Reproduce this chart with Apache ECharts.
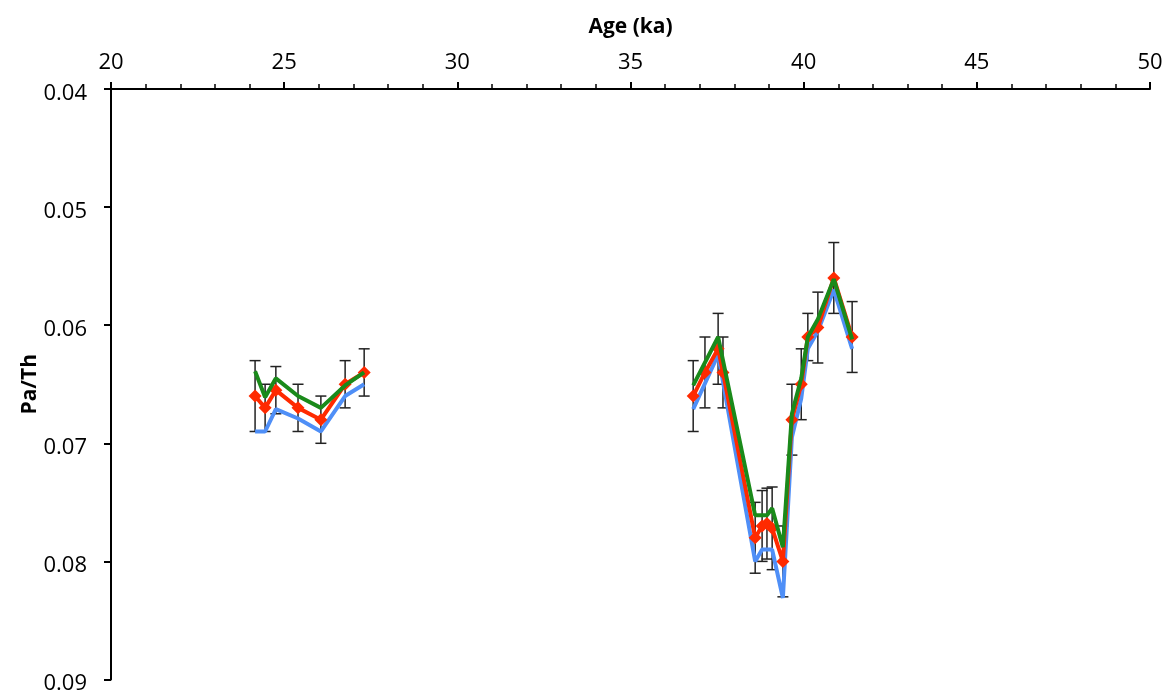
<!DOCTYPE html>
<html>
<head>
<meta charset="utf-8">
<script src="https://cdn.jsdelivr.net/npm/echarts@6/dist/echarts.min.js"></script>
<style>
html,body{margin:0;padding:0;background:#fff;}
#chart{width:1173px;height:695px;}
</style>
</head>
<body>
<div id="chart"></div>
<script>
// ---- data ----
const xTicks = [20, 25, 30, 35, 40, 45, 50];
const yTicks = [0.04, 0.05, 0.06, 0.07, 0.08, 0.09];

const ageRed  = [24.16, 24.45, 24.76, 25.40, 26.06, 26.76, 27.31,
                 36.81, 37.15, 37.53, 37.67, 38.60, 38.80, 38.94, 39.09, 39.40, 39.66, 39.93, 40.12, 40.41, 40.87, 41.40];
const paThRed = [0.0660, 0.0670, 0.0655, 0.0670, 0.0680, 0.0650, 0.0640,
                 0.0660, 0.0640, 0.0620, 0.0640, 0.0780, 0.0770, 0.0768, 0.0772, 0.0800, 0.0680, 0.0650, 0.0610, 0.0602, 0.0560, 0.0610];
const errRed  = [0.003, 0.002, 0.002, 0.002, 0.002, 0.002, 0.002,
                 0.003, 0.003, 0.003, 0.003, 0.003, 0.003, 0.003, 0.0035, 0.003, 0.003, 0.003, 0.002, 0.003, 0.003, 0.003];

const ageGreen  = [24.16, 24.45, 24.76, 25.40, 26.06, 26.76, 27.31,
                   36.81, 37.53, 38.60, 38.80, 38.94, 39.09, 39.40, 39.66, 39.93, 40.12, 40.41, 40.87, 41.40];
const paThGreen = [0.0639, 0.0661, 0.0645, 0.0660, 0.0670, 0.0651, 0.0640,
                   0.0651, 0.0610, 0.0761, 0.0761, 0.0761, 0.0755, 0.0788, 0.0675, 0.0645, 0.0610, 0.0595, 0.0561, 0.0612];

const ageBlue  = [24.16, 24.45, 24.76, 25.40, 26.06, 26.76, 27.31,
                  36.81, 37.53, 38.60, 38.80, 39.09, 39.40, 39.66, 39.93, 40.12, 40.41, 40.87, 41.40];
const paThBlue = [0.0690, 0.0690, 0.0671, 0.0679, 0.0690, 0.0660, 0.0650,
                  0.0671, 0.0625, 0.0800, 0.0790, 0.0790, 0.0831, 0.0695, 0.0662, 0.0620, 0.0605, 0.0570, 0.0620];

const gapAge = 32; // break between the two clusters

// ---- build series data ----
function pairs(xs, ys) {
  const out = [];
  for (let i = 0; i < xs.length; i++) {
    if (i > 0 && xs[i - 1] < gapAge && xs[i] > gapAge) out.push([gapAge, '-']);
    out.push([xs[i], ys[i]]);
  }
  return out;
}
const errData = ageRed.map((a, i) => [a, paThRed[i] - errRed[i], paThRed[i] + errRed[i]]);

const FONT = '"Open Sans", "Noto Sans", sans-serif';
const chart = echarts.init(document.getElementById('chart'));
chart.setOption({
  animation: false,
  backgroundColor: '#fff',
  grid: { left: 111, right: 23, top: 89, bottom: 13, containLabel: false },
  xAxis: {
    type: 'value', position: 'top',
    min: xTicks[0], max: xTicks[xTicks.length - 1], interval: 5,
    name: 'Age (ka)', nameLocation: 'middle', nameGap: 51, nameMoveOverlap: false,
    nameTextStyle: { fontFamily: FONT, fontSize: 21, fontWeight: 'bold', color: '#000' },
    axisLine: { show: true, onZero: false, lineStyle: { color: '#000', width: 2 } },
    axisTick: { show: true, inside: false, length: 7, lineStyle: { color: '#000', width: 2 } },
    minorTick: { show: true, splitNumber: 5, length: 5, lineStyle: { color: '#000', width: 1.5 } },
    axisLabel: { fontFamily: FONT, fontSize: 22, color: '#000', margin: 15 },
    splitLine: { show: false }
  },
  yAxis: {
    type: 'value', inverse: true,
    min: yTicks[0], max: yTicks[yTicks.length - 1], interval: 0.01,
    name: 'Pa/Th', nameLocation: 'middle', nameGap: 70, nameRotate: 90, nameMoveOverlap: false,
    nameTextStyle: { fontFamily: FONT, fontSize: 21, fontWeight: 'bold', color: '#000' },
    axisLine: { show: true, onZero: false, lineStyle: { color: '#000', width: 2 } },
    axisTick: { show: true, inside: false, length: 7, lineStyle: { color: '#000', width: 2 } },
    axisLabel: { color: '#000', margin: 24,
                 formatter: v => '{t|' + v.toFixed(2) + '}',
                 rich: { t: { fontFamily: FONT, fontSize: 22, color: '#000', padding: [9, 0, 0, 0] } } },
    splitLine: { show: false }
  },
  series: [
    {
      type: 'custom', z: 1,
      data: errData,
      encode: { x: 0, y: [1, 2] },
      renderItem: function (params, api) {
        const x = api.value(0);
        const p1 = api.coord([x, api.value(1)]);
        const p2 = api.coord([x, api.value(2)]);
        const hw = 5.5;
        const st = { stroke: '#222', lineWidth: 1.5 };
        return {
          type: 'group',
          children: [
            { type: 'line', shape: { x1: p1[0], y1: p1[1], x2: p2[0], y2: p2[1] }, style: st },
            { type: 'line', shape: { x1: p1[0] - hw, y1: p1[1], x2: p1[0] + hw, y2: p1[1] }, style: st },
            { type: 'line', shape: { x1: p2[0] - hw, y1: p2[1], x2: p2[0] + hw, y2: p2[1] }, style: st }
          ]
        };
      }
    },
    {
      type: 'line', z: 2, data: pairs(ageBlue, paThBlue),
      showSymbol: false, symbol: 'none', connectNulls: false,
      lineStyle: { color: '#4f8ff7', width: 4 }
    },
    {
      type: 'line', z: 3, data: pairs(ageRed, paThRed),
      symbol: 'diamond', symbolSize: 13, connectNulls: false,
      itemStyle: { color: '#ff2a00' },
      lineStyle: { color: '#ff2a00', width: 4 }
    },
    {
      type: 'line', z: 4, data: pairs(ageGreen, paThGreen),
      showSymbol: false, symbol: 'none', connectNulls: false,
      lineStyle: { color: '#1a8a1a', width: 4 }
    }
  ]
});
</script>
</body>
</html>
